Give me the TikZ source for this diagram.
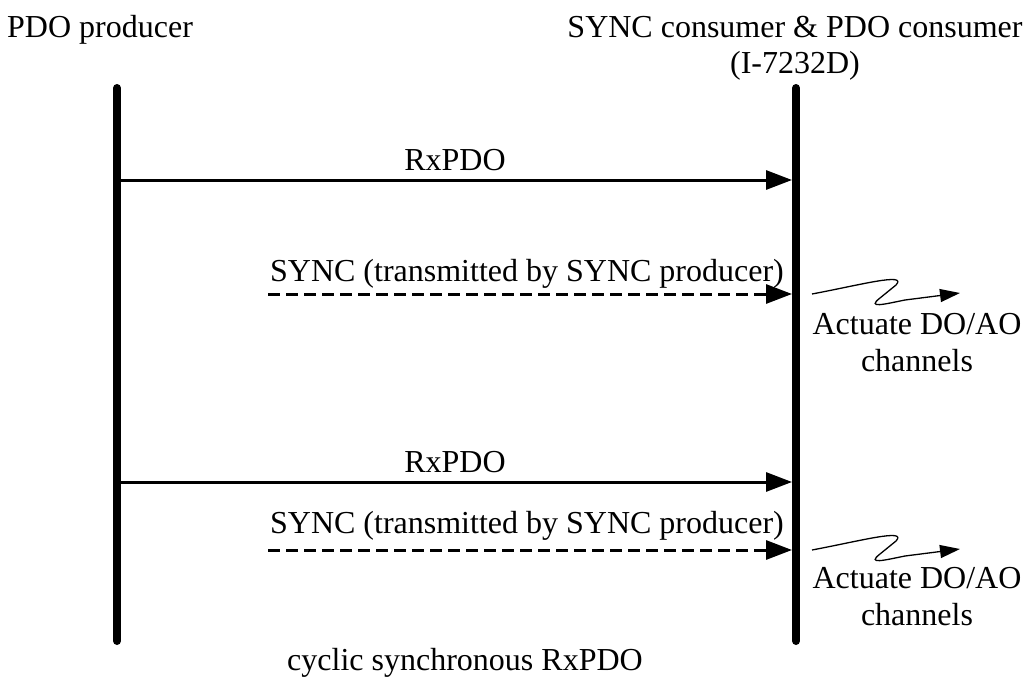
\documentclass[tikz,border=0pt]{standalone}
\usepackage{fontspec}
\setmainfont{Liberation Serif}
\usetikzlibrary{arrows.meta}
\begin{document}
\begin{tikzpicture}[x=1pt,y=-1pt,
  lbl/.style={anchor=base,inner sep=0pt,font=\fontsize{32}{36}\selectfont},
  lifeline/.style={line width=8pt,line cap=round},
  msg/.style={line width=3pt,-{Triangle[length=26pt,width=19pt]}},
  syncmsg/.style={msg,dash pattern=on 12pt off 6pt},
  act/.style={line width=1.3pt,-{Triangle[length=20pt,width=13pt]}}]
\useasboundingbox (0,0) rectangle (1028,677);
% lifelines
\coordinate (lt) at (117,88);
\coordinate (lb) at (117,641);
\coordinate (rt) at (796,88);
\coordinate (rb) at (796,641);
\draw[lifeline] (lt) -- (lb);
\draw[lifeline] (rt) -- (rb);
% headers
\node[lbl,anchor=base west] (prod) at (7,38) {PDO producer};
\node[lbl] (cons) at (795,38) {SYNC consumer \& PDO consumer};
\node[lbl] (consid) at (795,74) {(I-7232D)};
% first cycle
\coordinate (a1s) at (121,180);
\coordinate (a1e) at (792,180);
\draw[msg] (a1s) -- (a1e);
\node[lbl] (rx1) at (455,170) {RxPDO};
\coordinate (s1s) at (268,294);
\coordinate (s1e) at (792,294);
\draw[syncmsg] (s1s) -- (s1e);
\node[lbl] (sy1) at (527,281) {SYNC (transmitted by SYNC producer)};
\coordinate (q1s) at (812,294);
\coordinate (q1e) at (960,293);
\draw[act] (q1s) .. controls (860,285) and (908,272) .. (896,285) -- (880,298) .. controls (866,309) and (885,304) .. (905,300) -- (q1e);
\node[lbl,align=center,anchor=north] (ac1) at (917,313) {Actuate DO/AO\\[1pt]channels};
% second cycle
\coordinate (a2s) at (121,482);
\coordinate (a2e) at (792,482);
\draw[msg] (a2s) -- (a2e);
\node[lbl] (rx2) at (455,472) {RxPDO};
\coordinate (s2s) at (268,550);
\coordinate (s2e) at (792,550);
\draw[syncmsg] (s2s) -- (s2e);
\node[lbl] (sy2) at (527,533) {SYNC (transmitted by SYNC producer)};
\coordinate (q2s) at (812,550);
\coordinate (q2e) at (960,549);
\draw[act] (q2s) .. controls (860,541) and (908,528) .. (896,541) -- (880,554) .. controls (866,565) and (885,560) .. (905,556) -- (q2e);
\node[lbl,align=center,anchor=north] (ac2) at (917,567) {Actuate DO/AO\\[1pt]channels};
% caption
\node[lbl] (cap) at (465,670) {cyclic synchronous RxPDO};
\end{tikzpicture}
\end{document}
